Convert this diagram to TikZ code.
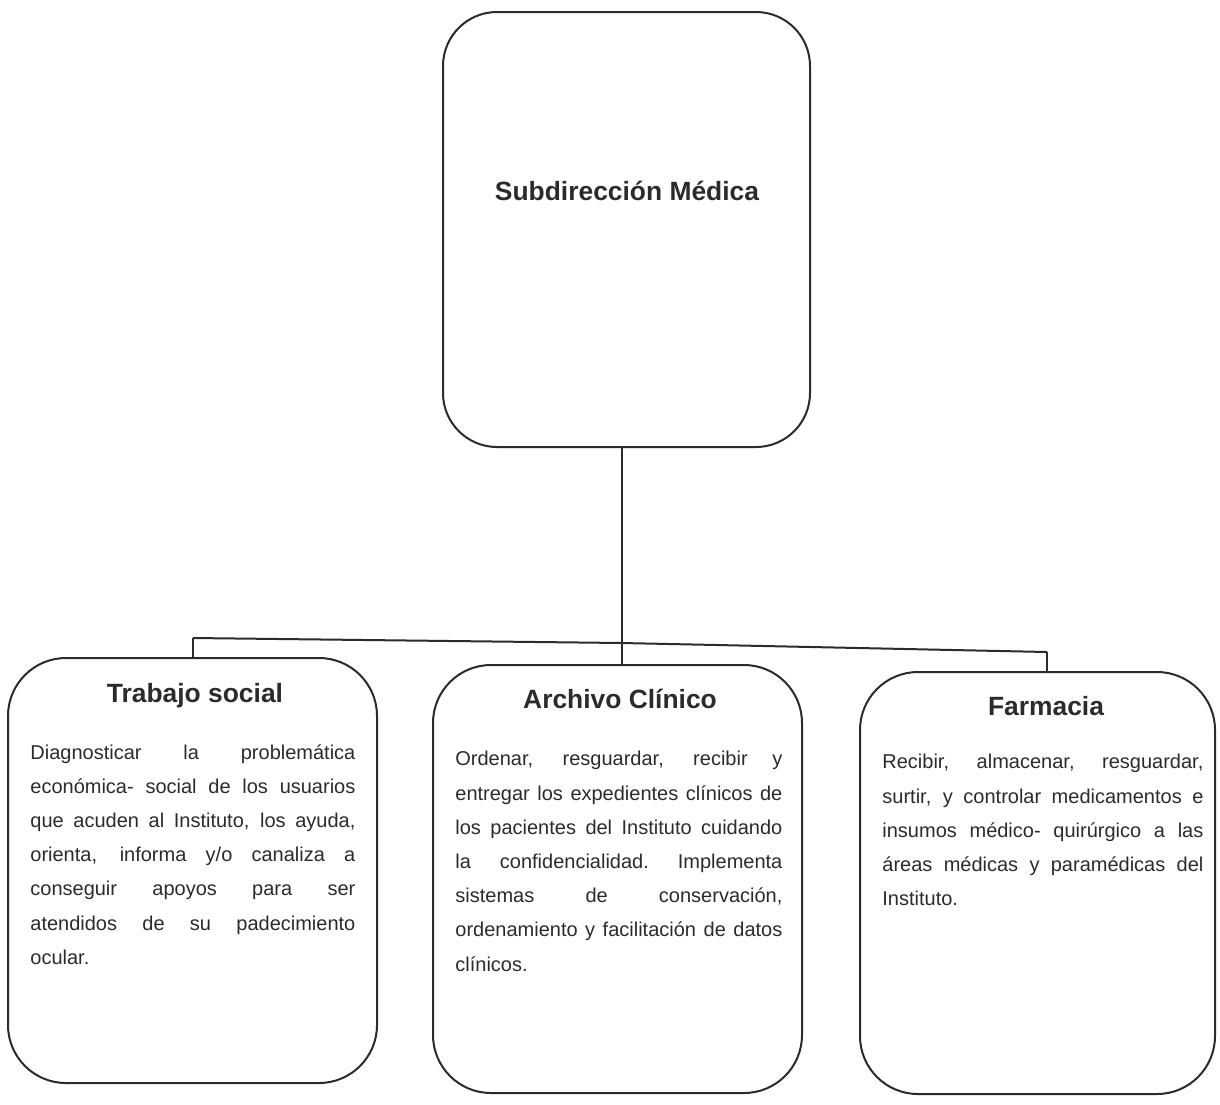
\documentclass[tikz,border=0pt]{standalone}
\usepackage{fontspec}
\setmainfont{Liberation Sans}
\definecolor{ink}{HTML}{2B2B2B}
\newcommand{\jl}[2]{\noindent\hbox to #1{\spaceskip=\fontdimen2\font plus 1fil\relax\xspaceskip=\spaceskip #2}\par}
\begin{document}
\begin{tikzpicture}[x=0.5pt,y=-0.5pt,
  orgbox/.style={draw=ink,line width=1pt,rounded corners=29pt,inner sep=0pt,outer sep=0pt},
  ttl/.style={font=\fontsize{13.2pt}{15pt}\selectfont\bfseries,text=ink,inner sep=0pt,anchor=base},
  body/.style={font=\fontsize{10pt}{17.1pt}\selectfont,text=ink,inner sep=0pt,anchor=north west,align=left},
  conn/.style={draw=ink,line width=1pt}]
\useasboundingbox (0,0) rectangle (1220,1104);
% boxes
\node[orgbox,rounded corners=27pt,minimum width=183.5pt,minimum height=217.5pt] (sub) at (626.5,229.5) {};
\node[orgbox,minimum width=184.5pt,minimum height=212.5pt] (ts) at (192.5,870.5) {};
\node[orgbox,minimum width=184.5pt,minimum height=214pt] (ac) at (617.5,879) {};
\node[orgbox,minimum width=177.5pt,minimum height=211pt] (fa) at (1037.5,883) {};
% titles
\node[ttl] (tsub) at (627,200) {Subdirección Médica};
\node[ttl] (tts) at (195,702) {Trabajo social};
\node[ttl] (tac) at (620,708) {Archivo Clínico};
\node[ttl] (tfa) at (1046,715) {Farmacia};
% bodies
\node[body,text width=162.5pt] (bts) at (30,744) {%
\jl{162.5pt}{Diagnosticar la problemática}
\jl{162.5pt}{económica- social de los usuarios}
\jl{162.5pt}{que acuden al Instituto, los ayuda,}
\jl{162.5pt}{orienta, informa y/o canaliza a}
\jl{162.5pt}{conseguir apoyos para ser}
\jl{162.5pt}{atendidos de su padecimiento}
\noindent ocular.};
\node[body,text width=163.5pt] (bac) at (455,751) {%
\jl{163.5pt}{Ordenar, resguardar, recibir y}
\jl{163.5pt}{entregar los expedientes clínicos de}
\jl{163.5pt}{los pacientes del Instituto cuidando}
\jl{163.5pt}{la confidencialidad. Implementa}
\jl{163.5pt}{sistemas de conservación,}
\jl{163.5pt}{ordenamiento y facilitación de datos}
\noindent clínicos.};
\node[body,text width=160.5pt] (bfa) at (882,754) {%
\jl{160.5pt}{Recibir, almacenar, resguardar,}
\jl{160.5pt}{surtir, y controlar medicamentos e}
\jl{160.5pt}{insumos médico- quirúrgico a las}
\jl{160.5pt}{áreas médicas y paramédicas del}
\noindent Instituto.};
% connectors
\coordinate (jl) at (193,638);
\coordinate (jc) at (622,643);
\coordinate (jr) at (1047,652);
\draw[conn] (jc |- sub.south) -- (jc);
\draw[conn] (jl) -- (jc) -- (jr);
\draw[conn] (jl) -- (jl |- ts.north);
\draw[conn] (jc) -- (jc |- ac.north);
\draw[conn] (jr) -- (jr |- fa.north);
\end{tikzpicture}
\end{document}
